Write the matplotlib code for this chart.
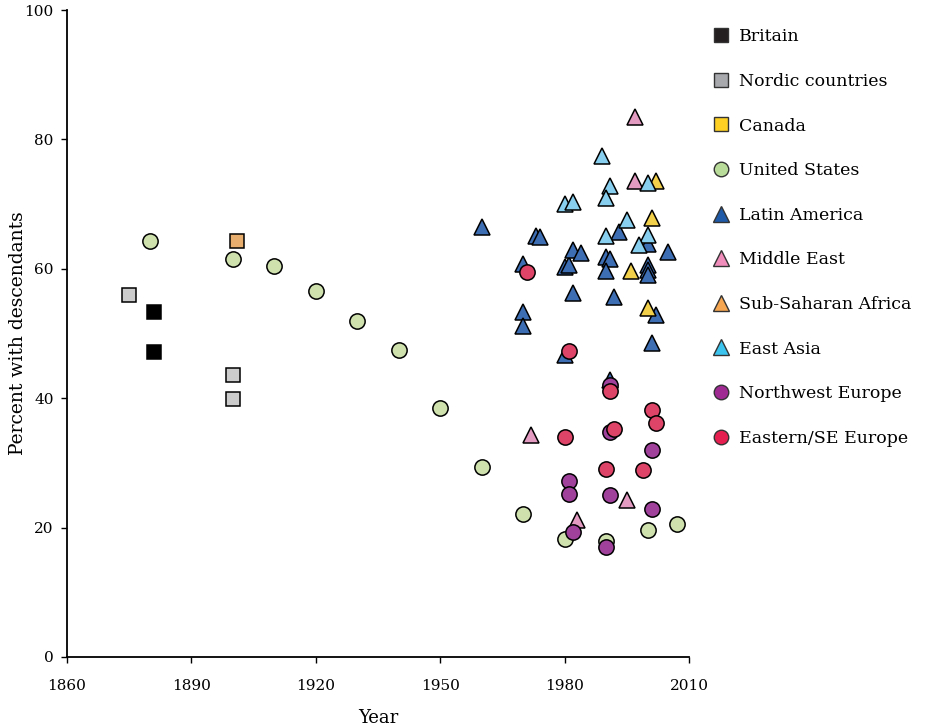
import matplotlib
matplotlib.use("Agg")
import matplotlib.pyplot as plt
from matplotlib.lines import Line2D

plt.rcParams['font.family'] = ['DejaVu Serif']

# Values (year, percent with descendants)
britain_year = [1881, 1881]
britain_pct = [53.4, 47.2]

nordic_year = [1875, 1900, 1900]
nordic_pct = [56.0, 43.6, 39.8]

canada_year = [1901]
canada_pct = [64.3]

us_year = [1880, 1900, 1910, 1920, 1930, 1940, 1950, 1960, 1970, 1980, 1990, 2000, 2007]
us_pct = [64.3, 61.5, 60.4, 56.6, 51.9, 47.4, 38.5, 29.4, 22.1, 18.2, 18.0, 19.6, 20.5]

latin_year = [1960, 1970, 1970, 1970, 1973, 1974, 1980, 1981, 1980, 1982, 1984, 1982,
              1990, 1991, 1990, 1991, 1992, 1993, 2000, 2000, 2000, 2000, 2002, 2001, 2005]
latin_pct = [66.4, 60.8, 53.4, 51.1, 65.1, 64.9, 60.3, 60.6, 46.7, 62.9, 62.4, 56.3,
             61.9, 61.5, 59.7, 42.8, 55.7, 65.7, 63.9, 60.6, 59.8, 59.0, 52.9, 48.6, 62.6]

mideast_year = [1997, 1997, 1972, 1995, 1983]
mideast_pct = [83.4, 73.6, 34.3, 24.3, 21.1]

ssa_year = [2002, 2001, 1996, 2000]
ssa_pct = [73.5, 67.8, 59.6, 53.9]

eastasia_year = [1989, 1991, 1990, 1980, 1982, 1995, 1990, 2000, 1998, 2000]
eastasia_pct = [77.4, 72.8, 70.9, 70.0, 70.3, 67.6, 65.0, 65.2, 63.7, 73.3]

nweurope_year = [1991, 1991, 2001, 1981, 1981, 1991, 2001, 1982, 1990]
nweurope_pct = [42.0, 34.7, 32.0, 27.2, 25.2, 25.0, 22.9, 19.3, 17.0]

eeurope_year = [1971, 1981, 1991, 2001, 2002, 1980, 1992, 1990, 1999]
eeurope_pct = [59.5, 47.3, 41.1, 38.1, 36.1, 34.0, 35.2, 29.1, 28.9]

labels = ["Britain", "Nordic countries", "Canada", "United States", "Latin America",
          "Middle East", "Sub-Saharan Africa", "East Asia", "Northwest Europe",
          "Eastern/SE Europe"]

series = [
    (britain_year, britain_pct, "s", "#000000"),
    (nordic_year, nordic_pct, "s", "#CCCCCC"),
    (canada_year, canada_pct, "s", "#E8AE6E"),
    (us_year, us_pct, "o", "#CFE2AE"),
    (latin_year, latin_pct, "^", "#3D6DB3"),
    (mideast_year, mideast_pct, "^", "#E49BC2"),
    (ssa_year, ssa_pct, "^", "#F2D04A"),
    (eastasia_year, eastasia_pct, "^", "#88CFEF"),
    (nweurope_year, nweurope_pct, "o", "#A0429C"),
    (eeurope_year, eeurope_pct, "o", "#DD4467"),
]
legend_colors = ["#231F20", "#A7A9AC", "#FDD023", "#B9DC9A", "#1E5AA8",
                 "#F08DBA", "#F6A650", "#3CC3EE", "#9E2A92", "#E51F4F"]
sizes = {"s": 10.5, "o": 11, "^": 11.5}

fig = plt.figure(figsize=(9.27, 7.26), dpi=100)
ax = fig.add_axes([67 / 927, 69 / 726, 622 / 927, 647 / 726])

for (x, y, m, c) in series:
    ax.plot(x, y, linestyle="none", marker=m, markersize=sizes[m],
            markerfacecolor=c, markeredgecolor="black", markeredgewidth=1.1)

ax.set_xlim(1860, 2010)
ax.set_ylim(0, 100)
ax.set_xticks(range(1860, 2011, 30))
ax.set_yticks(range(0, 101, 20))
ax.spines["top"].set_visible(False)
ax.spines["right"].set_visible(False)
ax.spines["left"].set_linewidth(1.3)
ax.spines["bottom"].set_linewidth(1.3)
ax.tick_params(direction="out", length=4.5, width=1, labelsize=11)
ax.tick_params(axis="x", pad=11)
ax.tick_params(axis="y", pad=5)
ax.set_xlabel("Year", fontsize=13, labelpad=12)
ax.set_ylabel("Percent with descendants", fontsize=13.5)
ax.yaxis.set_label_coords(-0.064, 0.5)

handles = []
for (x, y, m, c), lc in zip(series, legend_colors):
    handles.append(Line2D([], [], linestyle="none", marker=m, markersize=sizes[m] * 0.95,
                          markerfacecolor=lc, markeredgecolor="#333333", markeredgewidth=1))
fig.legend(handles, labels, loc="upper left", bbox_to_anchor=(0.768, 0.961),
           frameon=False, fontsize=12.5, handlelength=1.1, handletextpad=0.45,
           labelspacing=1.59, borderpad=0, borderaxespad=0)

fig.savefig("out.png", dpi=100)
